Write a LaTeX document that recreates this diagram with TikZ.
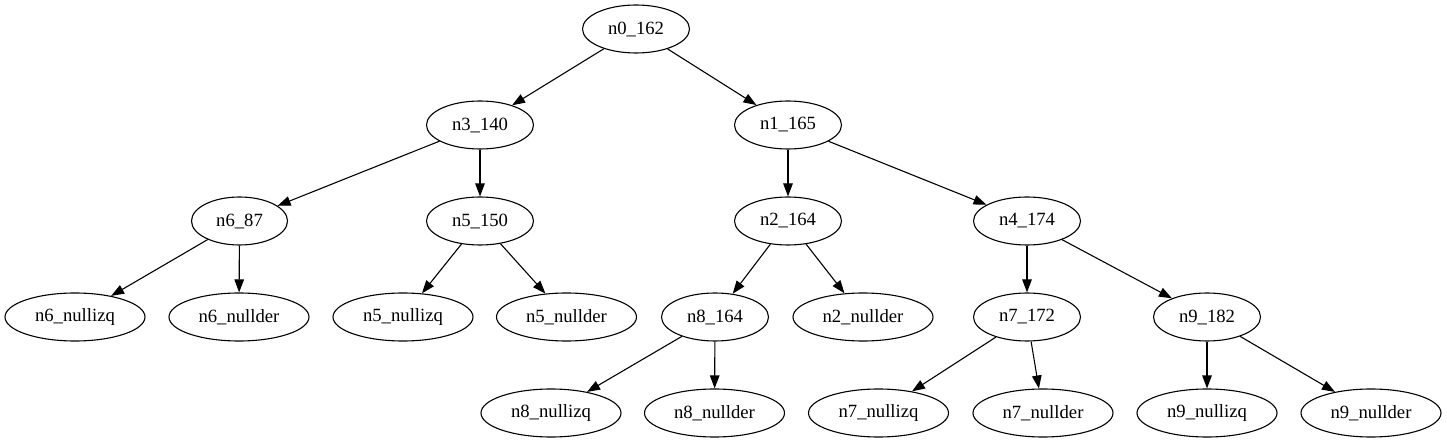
\documentclass[tikz,border=0pt]{standalone}
\usepackage{fontspec}
\setmainfont{Liberation Serif}
\usetikzlibrary{shapes.geometric,arrows.meta}
\begin{document}
\begin{tikzpicture}[x=1pt,y=-1pt,
  nd/.style={draw,ellipse,line width=1.1pt,inner sep=0pt,minimum width=107pt,minimum height=48pt,font=\fontsize{18.67}{20}\selectfont},
  sm/.style={nd,minimum width=96pt},
  wd/.style={nd,minimum width=140pt},
  edge/.style={draw,line width=1.1pt,-{Triangle[length=13pt,width=9.5pt]}}]
\useasboundingbox (0,0) rectangle (1447,443);
\node[nd] (n0) at (636,29) {n0\_162};
\node[nd] (n3) at (480,125) {n3\_140};
\node[nd] (n1) at (788,125) {n1\_165};
\node[sm] (n6) at (239.5,221) {n6\_87};
\node[nd] (n5) at (480,221) {n5\_150};
\node[nd] (n2) at (788,221) {n2\_164};
\node[nd] (n4) at (1027,221) {n4\_174};
\node[wd] (n6l) at (75,317) {n6\_nullizq};
\node[wd] (n6r) at (239,317) {n6\_nullder};
\node[wd] (n5l) at (403,317) {n5\_nullizq};
\node[wd] (n5r) at (566.5,317) {n5\_nullder};
\node[nd] (n8) at (715,317) {n8\_164};
\node[wd] (n2r) at (863,317) {n2\_nullder};
\node[nd] (n7) at (1027,317) {n7\_172};
\node[nd] (n9) at (1207,317) {n9\_182};
\node[wd] (n8l) at (551,413) {n8\_nullizq};
\node[wd] (n8r) at (714.5,413) {n8\_nullder};
\node[wd] (n7l) at (878.5,413) {n7\_nullizq};
\node[wd] (n7r) at (1043,413) {n7\_nullder};
\node[wd] (n9l) at (1207,413) {n9\_nullizq};
\node[wd] (n9r) at (1371,413) {n9\_nullder};
\path[edge] (n0) -- (n3);
\path[edge] (n0) -- (n1);
\path[edge] (n3) -- (n6);
\path[edge] (n3) -- (n5);
\path[edge] (n1) -- (n2);
\path[edge] (n1) -- (n4);
\path[edge] (n6) -- (n6l);
\path[edge] (n6) -- (n6r);
\path[edge] (n5) -- (n5l);
\path[edge] (n5) -- (n5r);
\path[edge] (n2) -- (n8);
\path[edge] (n2) -- (n2r);
\path[edge] (n4) -- (n7);
\path[edge] (n4) -- (n9);
\path[edge] (n8) -- (n8l);
\path[edge] (n8) -- (n8r);
\path[edge] (n7) -- (n7l);
\path[edge] (n7) -- (n7r);
\path[edge] (n9) -- (n9l);
\path[edge] (n9) -- (n9r);
\end{tikzpicture}
\end{document}
